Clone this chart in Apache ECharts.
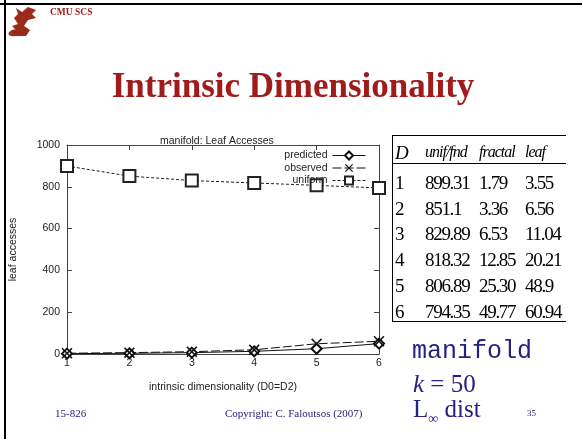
<!DOCTYPE html>
<html>
<head>
<meta charset="utf-8">
<script src="https://cdn.jsdelivr.net/npm/echarts@6/dist/echarts.min.js"></script>
<style>
  html, body { margin: 0; padding: 0; background: #fff; }
  #slide { position: relative; width: 582px; height: 439px; overflow: hidden; background: #fff; }
  #main { position: absolute; left: 0; top: 0; width: 582px; height: 439px; }
  .t { position: absolute; line-height: 1; white-space: nowrap; transform: translateY(-50%); }
  .hl { position: absolute; background: #000; height: 1px; }
  .vl { position: absolute; background: #000; width: 1px; }
  .cell { position: absolute; line-height: 1; white-space: nowrap; transform: translateY(-50%);
          font-family: "Liberation Serif", serif; font-size: 19px; letter-spacing: -1.3px; color: #000; }
</style>
</head>
<body>
<div id="slide">
  <div id="main"></div>
</div>

<script>
// data (table values, same as the plotted points)
const dims = [1, 2, 3, 4, 5, 6]
const uniformAcc = ['899.31', '851.1', '829.89', '818.32', '806.89', '794.35']
const fractalAcc = ['1.79', '3.36', '6.53', '12.85', '25.30', '49.77']
const leafAcc = ['3.55', '6.56', '11.04', '20.21', '48.9', '60.94']
const tableHead = ['D', 'unif/fnd', 'fractal', 'leaf']
const yTicks = [0, 200, 400, 600, 800, 1000]

const slide = document.getElementById('slide')

function addText(txt, x, y, css) {
  let d = document.createElement('div')
  d.className = 't'
  d.textContent = txt
  d.style.left = x + 'px'
  d.style.top = y + 'px'
  Object.assign(d.style, css || {})
  slide.appendChild(d)
  return d
}
function addLine(cls, x, y, len, thick) {
  let d = document.createElement('div')
  d.className = cls
  d.style.left = x + 'px'
  d.style.top = y + 'px'
  if (cls === 'hl') { d.style.width = len + 'px'; if (thick) d.style.height = thick + 'px' }
  else { d.style.height = len + 'px'; if (thick) d.style.width = thick + 'px' }
  slide.appendChild(d)
}

// slide frame (left + top)
addLine('hl', 0, 3, 582, 2)
addLine('vl', 4, 0, 439, 2)

// logo (rough dragon shape)
let logo = document.createElementNS('http://www.w3.org/2000/svg', 'svg')
logo.setAttribute('width', '32')
logo.setAttribute('height', '34')
logo.style.position = 'absolute'
logo.style.left = '6px'
logo.style.top = '4px'
logo.innerHTML = '<path d="M10 4 L16 8 L22 3 L30 6 L26 10 L30 14 L22 16 L18 22 L24 26 L20 32 L8 32 L4 28 L10 26 L6 22 L12 20 L8 14 L12 10 Z" fill="#9b2a1a"/>' +
  '<path d="M3 30 Q8 24 14 28 Q10 33 3 30" fill="none" stroke="#9b2a1a" stroke-width="2"/>'
slide.appendChild(logo)

const red = '#a01c1c'
const navy = '#262080'
addText('CMU SCS', 50, 13, { fontFamily: '"Liberation Serif", serif', fontWeight: 'bold', fontSize: '9.5px', color: red })
addText('Intrinsic Dimensionality', 293, 85, { fontFamily: '"Liberation Serif", serif', fontWeight: 'bold', fontSize: '35px', color: red, transform: 'translate(-50%,-50%)' })

// table
const colX = [395, 425, 479, 525]
addLine('hl', 392, 135, 174)
addLine('hl', 392, 163, 174)
addLine('hl', 392, 321, 174)
addLine('vl', 392, 135, 187)
tableHead.forEach((h, j) => {
  addText(h, colX[j], 152, { fontFamily: '"Liberation Serif", serif', fontStyle: 'italic',
    fontSize: j === 0 ? '19px' : '16px', letterSpacing: j === 0 ? '0' : '-1px', color: '#000' })
})
dims.forEach((d, i) => {
  let y = 182 + i * 25.7
  let vals = [String(d), uniformAcc[i], fractalAcc[i], leafAcc[i]]
  vals.forEach((v, j) => {
    let c = document.createElement('div')
    c.className = 'cell'
    c.textContent = v
    c.style.left = colX[j] + 'px'
    c.style.top = y + 'px'
    slide.appendChild(c)
  })
})

// side notes
addText('manifold', 412, 351, { fontFamily: '"Liberation Mono", monospace', fontSize: '25px', color: navy })
let k = addText('', 413, 383, { fontFamily: '"Liberation Serif", serif', fontSize: '25px', color: navy })
k.innerHTML = '<i>k</i> = 50'
let l = addText('', 413, 411, { fontFamily: '"Liberation Serif", serif', fontSize: '25px', color: navy })
l.innerHTML = 'L<sub style="font-size:14px">&infin;</sub> dist'
addText('35', 527, 413, { fontFamily: '"Liberation Serif", serif', fontSize: '9px', color: navy })
addText('15-826', 55, 413, { fontFamily: '"Liberation Serif", serif', fontSize: '11px', color: navy })
addText('Copyright: C. Faloutsos (2007)', 225, 413, { fontFamily: '"Liberation Serif", serif', fontSize: '11px', color: navy })

// chart
let myChart = echarts.init(document.getElementById('main'))
const font = '"Liberation Sans", sans-serif'
const ink = '#222'

function pts(arr) {
  return dims.map((d, i) => [d, Number(arr[i])])
}

const xCommon = {
  type: 'value', min: 1, max: 6, interval: 1,
  axisLine: { show: true, onZero: false, lineStyle: { color: '#444', width: 1 } },
  axisTick: { show: true, inside: true, length: 5, lineStyle: { color: '#444' } },
  splitLine: { show: false }
}
const yCommon = {
  type: 'value', min: yTicks[0], max: yTicks[yTicks.length - 1], interval: 200,
  axisLine: { show: true, onZero: false, lineStyle: { color: '#444', width: 1 } },
  axisTick: { show: true, inside: true, length: 5, lineStyle: { color: '#444' } },
  splitLine: { show: false }
}

myChart.setOption({
  animation: false,
  title: {
    text: 'manifold: Leaf Accesses',
    left: 155, top: 131,
    textStyle: { fontFamily: font, fontSize: 10.5, fontWeight: 'normal', color: ink }
  },
  grid: { left: 67, right: 203, top: 145, bottom: 85 },
  legend: {
    data: ['predicted', 'observed', 'uniform'],
    orient: 'vertical',
    align: 'right',
    right: 216, top: 150,
    itemWidth: 33, itemHeight: 10, itemGap: 1.5,
    padding: 0,
    lineStyle: { width: 1 },
    itemStyle: { borderWidth: 1 },
    textStyle: { fontFamily: font, fontSize: 10.5, color: ink }
  },
  xAxis: [
    Object.assign({}, xCommon, {
      position: 'bottom',
      name: 'intrinsic dimensionality (D0=D2)',
      nameLocation: 'middle', nameGap: 28,
      nameTextStyle: { fontFamily: font, fontSize: 10.5, color: ink },
      axisLabel: { fontFamily: font, fontSize: 10.5, color: ink, margin: 4 }
    }),
    Object.assign({}, xCommon, { position: 'top', axisLabel: { show: false } })
  ],
  yAxis: [
    Object.assign({}, yCommon, {
      position: 'left',
      name: 'leaf accesses',
      nameLocation: 'middle', nameGap: 48,
      nameTextStyle: { fontFamily: font, fontSize: 10.5, color: ink },
      axisLabel: { fontFamily: font, fontSize: 10.5, color: ink, margin: 7, formatter: v => String(v) }
    }),
    Object.assign({}, yCommon, { position: 'right', axisLabel: { show: false } })
  ],
  series: [
    {
      name: 'predicted', type: 'line', data: pts(fractalAcc),
      symbol: 'emptyDiamond', symbolSize: 10,
      lineStyle: { color: '#111', width: 1, type: 'solid' },
      itemStyle: { color: '#111', borderColor: '#111', borderWidth: 1 }
    },
    {
      name: 'observed', type: 'line', data: pts(leafAcc),
      symbol: 'path://M0,1L1,0L5,4L9,0L10,1L6,5L10,9L9,10L5,6L1,10L0,9L4,5Z', symbolSize: 11,
      lineStyle: { color: '#111', width: 1, type: [9, 3] },
      itemStyle: { color: '#111' }
    },
    {
      name: 'uniform', type: 'line', data: pts(uniformAcc),
      symbol: 'emptyRect', symbolSize: 12,
      lineStyle: { color: '#222', width: 1, type: [3, 2] },
      itemStyle: { color: '#222', borderColor: '#222', borderWidth: 1 }
    }
  ]
})
</script>
</body>
</html>
